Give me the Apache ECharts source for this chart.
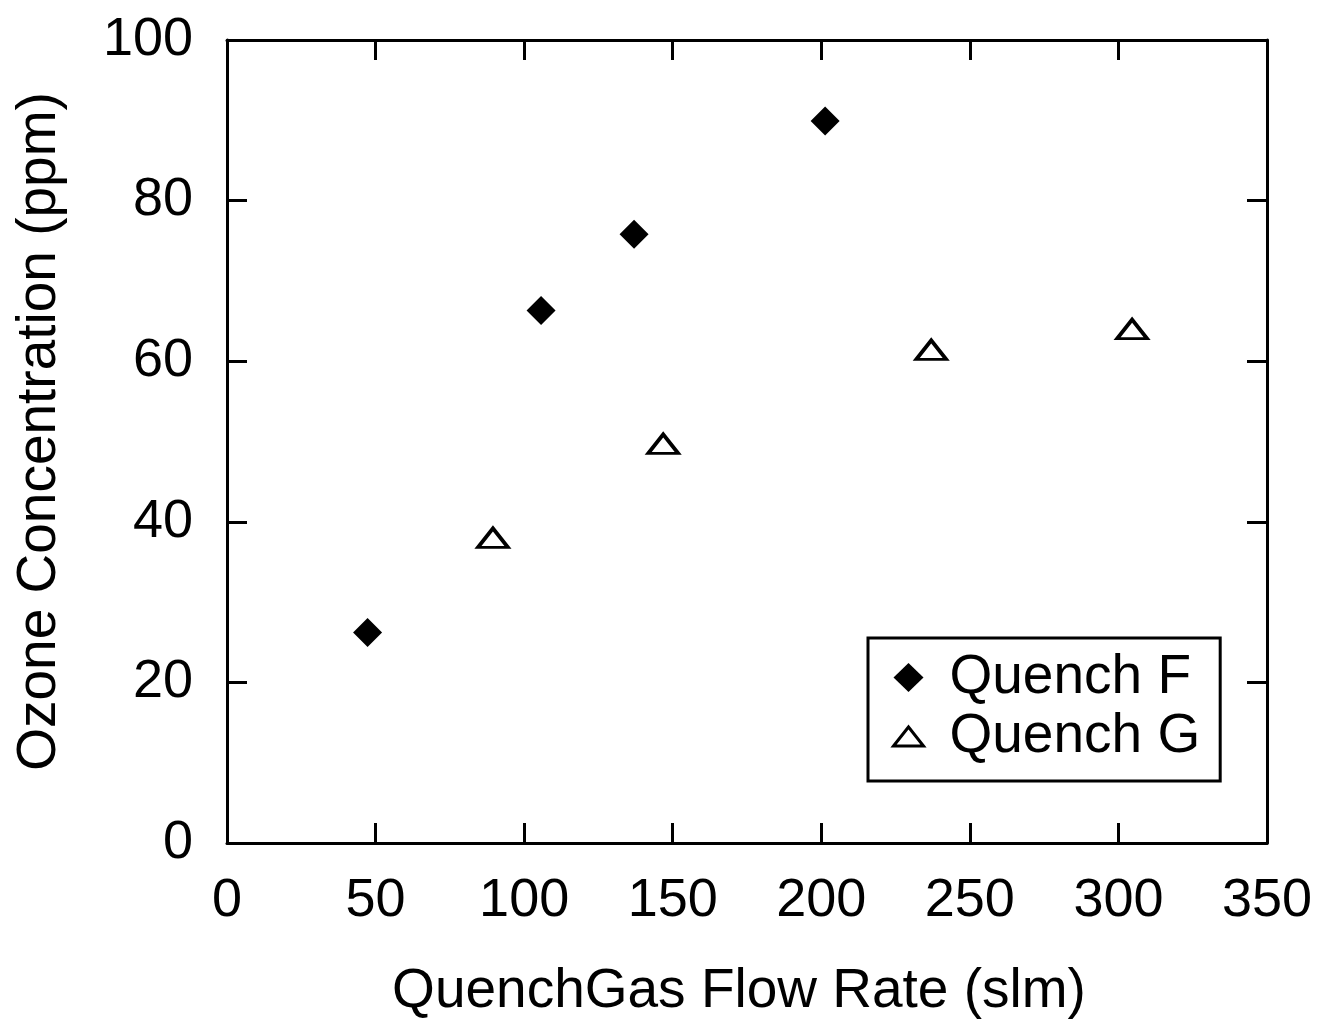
<!DOCTYPE html>
<html>
<head>
<meta charset="utf-8">
<script src="https://cdn.jsdelivr.net/npm/echarts@6/dist/echarts.min.js"></script>
<style>
  html, body { margin: 0; padding: 0; background: #fff; }
  #chart { width: 1329px; height: 1026px; }
</style>
</head>
<body>
<div id="chart"></div>
<script>
// 数据
const quenchF = [[47.3, 26.2], [105.7, 66.3], [137, 75.8], [201.3, 89.9]];
const quenchG = [[89.5, 38.0], [146.8, 49.7], [237, 61.4], [304.6, 64.0]];
const xTicks = { min: 0, max: 350, interval: 50 };
const yTicks = { min: 0, max: 100, interval: 20 };

const font = "Liberation Sans, Arial, Helvetica, sans-serif";
const triPath = "path://M0,19L15,0L30,19Z";

// 坐标轴公共样式
function axisBase(show, margin) {
  return {
    axisLine: { show: true, onZero: false, lineStyle: { color: "#000", width: 3 } },
    axisTick: { show: true, inside: true, length: 20, lineStyle: { color: "#000", width: 3 } },
    axisLabel: { show: show, margin: margin, color: "#000", fontSize: 54, fontFamily: font },
    splitLine: { show: false },
  };
}

const option = {
  backgroundColor: "#fff",
  animation: false,
  grid: { left: 227, right: 62, top: 40, bottom: 183 },
  xAxis: [
    Object.assign(axisBase(true, 31), {
      type: "value", position: "bottom",
      min: xTicks.min, max: xTicks.max, interval: xTicks.interval,
      name: "QuenchGas Flow Rate (slm)",
      nameLocation: "middle", nameGap: 121,
      nameTextStyle: { color: "#000", fontSize: 55, fontFamily: font, padding: [0, 16, 0, 0] },
    }),
    Object.assign(axisBase(false, 8), {
      type: "value", position: "top",
      min: xTicks.min, max: xTicks.max, interval: xTicks.interval,
    }),
  ],
  yAxis: [
    Object.assign(axisBase(true, 34), {
      type: "value", position: "left",
      min: yTicks.min, max: yTicks.max, interval: yTicks.interval,
      name: "Ozone Concentration (ppm)",
      nameLocation: "middle", nameGap: 160,
      nameTextStyle: { color: "#000", fontSize: 55, fontFamily: font, padding: [0, 0, 0, 20] },
    }),
    Object.assign(axisBase(false, 8), {
      type: "value", position: "right",
      min: yTicks.min, max: yTicks.max, interval: yTicks.interval,
    }),
  ],
  legend: {
    left: 868, top: 638,
    orient: "vertical",
    backgroundColor: "#fff",
    borderColor: "#000", borderWidth: 3, borderRadius: 0,
    padding: [12, 20, 17, 24],
    itemWidth: 30, itemHeight: 29, itemGap: 4,
    textStyle: { color: "#000", fontSize: 55, lineHeight: 55, fontFamily: font, padding: [0, 0, 0, 21] },
    data: [
      { name: "Quench F", icon: "diamond", itemStyle: { color: "#000", borderWidth: 0 } },
      { name: "Quench G", icon: triPath, itemStyle: { color: "#fff", borderColor: "#000", borderWidth: 3 } },
    ],
  },
  series: [
    {
      name: "Quench F", type: "scatter",
      symbol: "diamond", symbolSize: 29,
      itemStyle: { color: "#000", opacity: 1 },
      data: quenchF,
    },
    {
      name: "Quench G", type: "scatter",
      symbol: triPath, symbolSize: [30, 19],
      itemStyle: { color: "#fff", borderColor: "#000", borderWidth: 3.5, opacity: 1 },
      data: quenchG,
    },
  ],
};

echarts.init(document.getElementById("chart")).setOption(option);
</script>
</body>
</html>
